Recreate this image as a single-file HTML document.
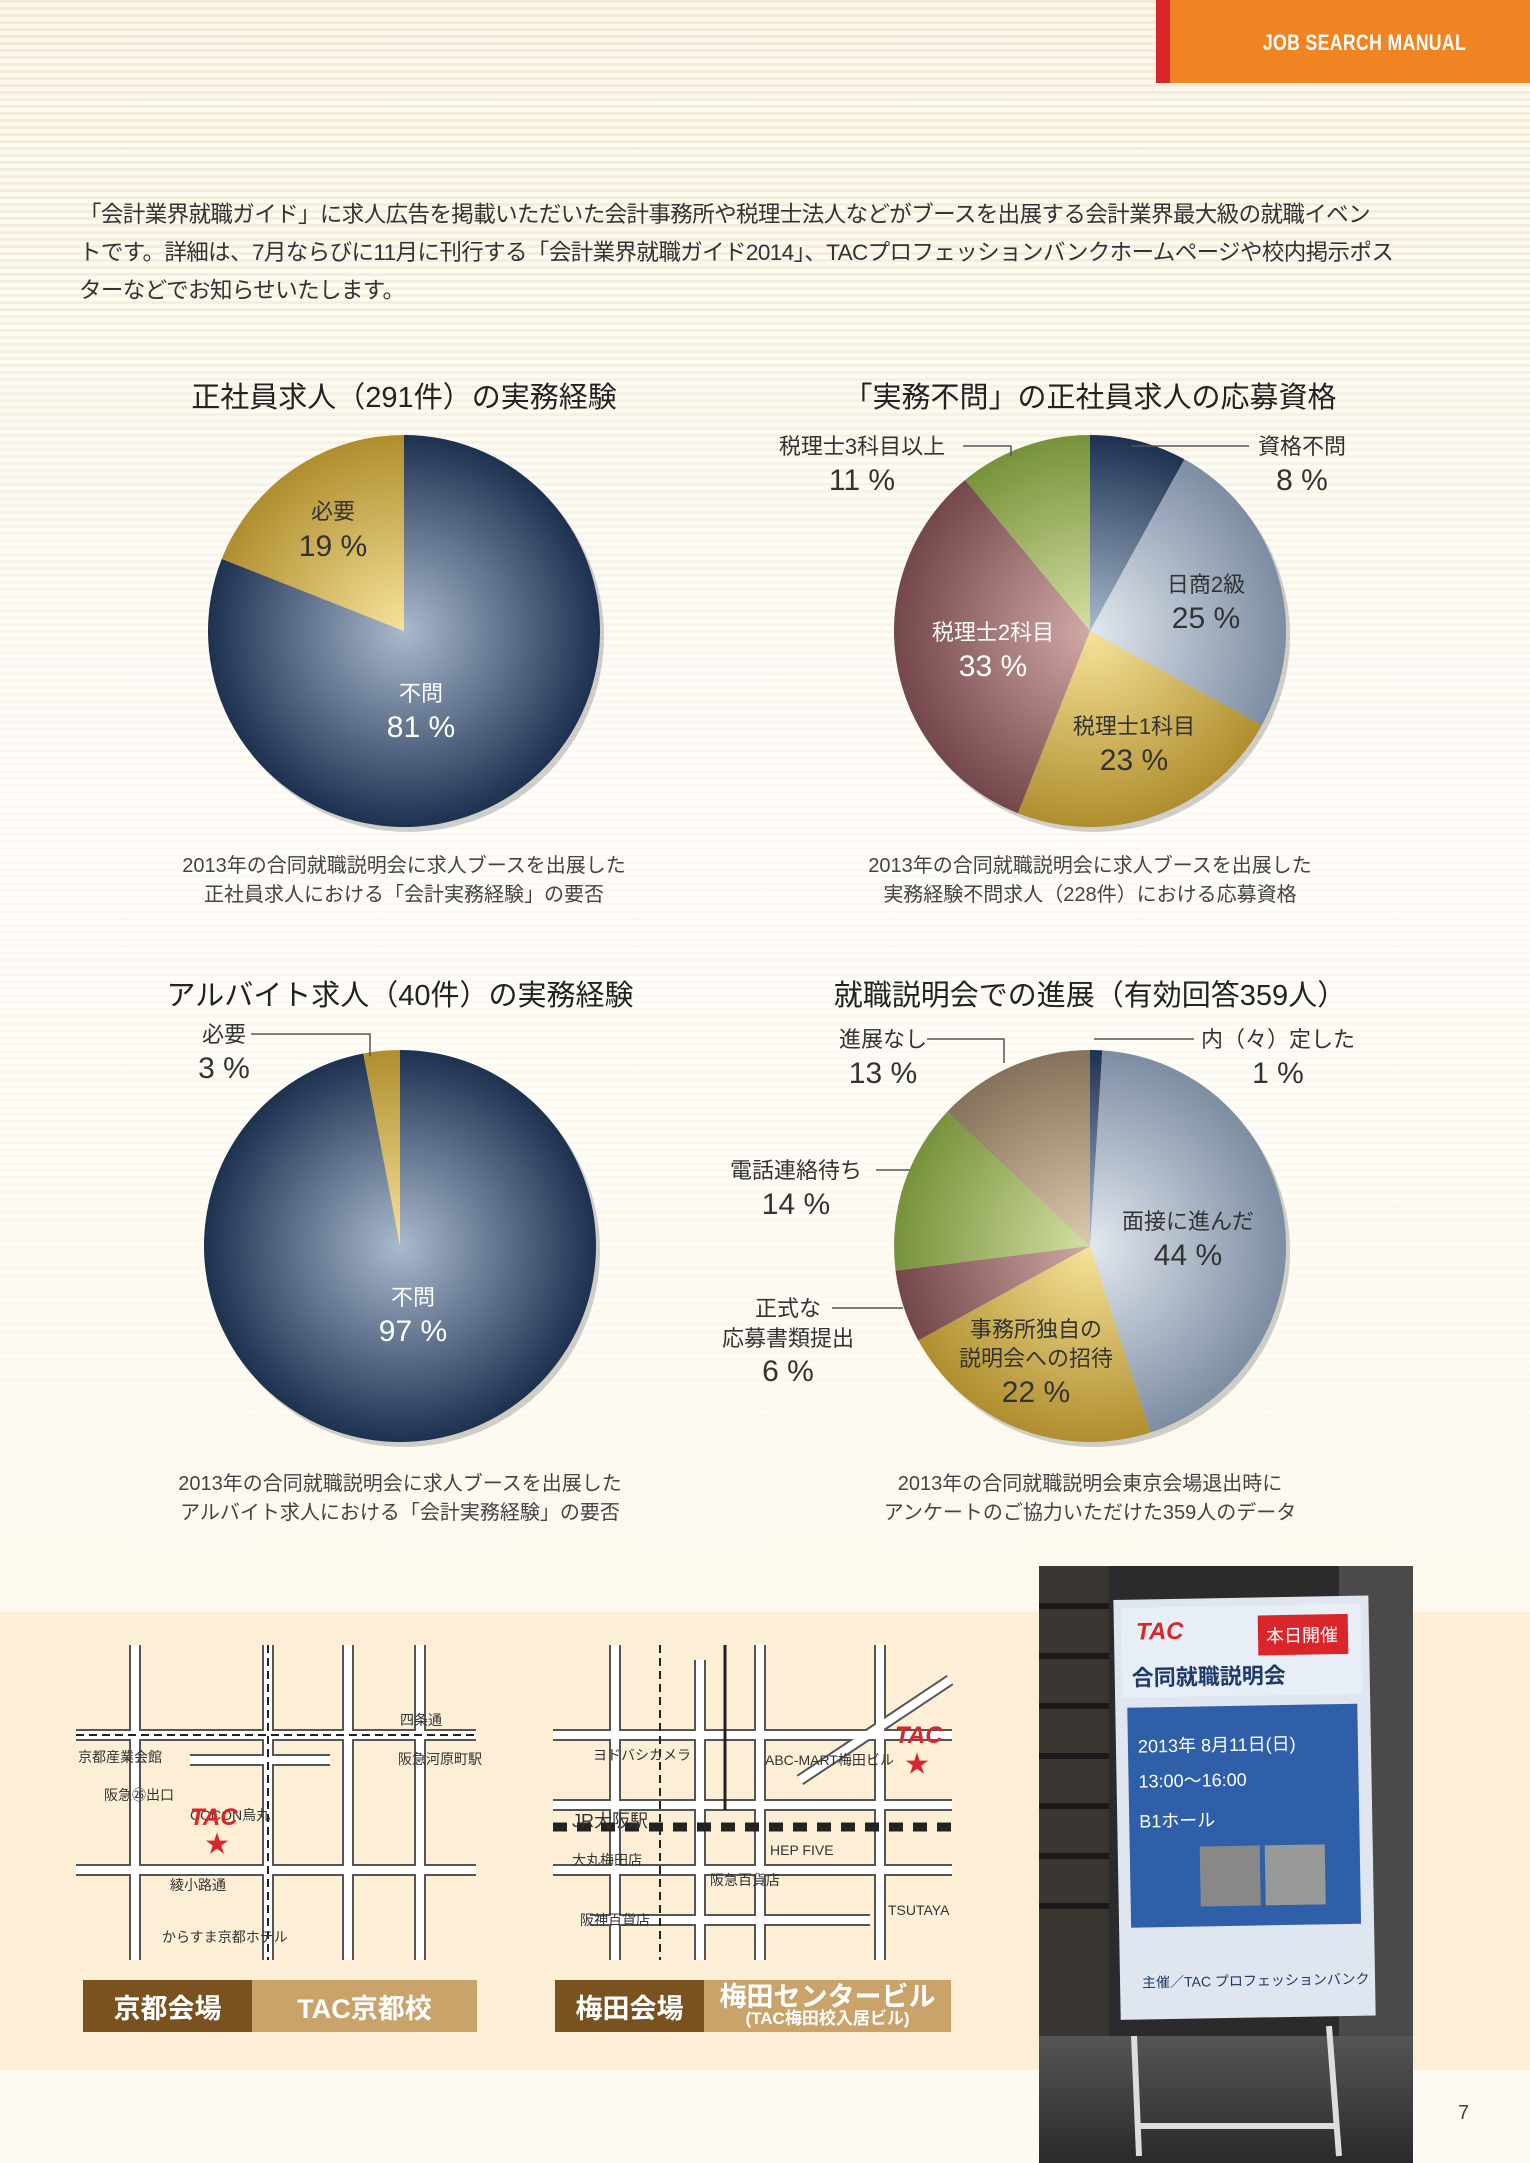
<!DOCTYPE html>
<html><head><meta charset="utf-8">
<style>
html,body{margin:0;padding:0}
body{width:1530px;height:2163px;position:relative;overflow:hidden;font-family:"Liberation Sans","Noto Sans CJK JP",sans-serif;color:#333;
background:repeating-linear-gradient(180deg,#f4ead3 0px,#f4ead3 3px,#fcf8ee 3px,#fcf8ee 7px);}
.fade{position:absolute;left:0;top:0;width:1530px;height:1612px;background:linear-gradient(180deg,rgba(255,255,255,0) 0px,rgba(255,255,255,0.25) 300px,rgba(255,255,255,0.7) 800px,rgba(253,250,240,0.9) 1600px)}
.hdr{position:absolute;left:1156px;top:0;width:374px;height:83px;background:#f08423;border-left:14px solid #d8262a;box-sizing:border-box}
.hdr span{position:absolute;right:64px;top:30px;color:#fff;font-weight:bold;font-size:22px;letter-spacing:0.5px;transform:scaleX(0.8);transform-origin:right}
.para{position:absolute;left:79px;top:196px;width:1450px;font-size:22.5px;line-height:38px;color:#333;letter-spacing:-0.6px;white-space:nowrap}
.t{position:absolute;white-space:nowrap;transform:translateX(-50%);text-align:center}
.title{font-size:29px;color:#222}
.cap{font-size:20px;color:#444;line-height:29px}
.band{position:absolute;left:0;top:1612px;width:1530px;height:458px;background:#fcefd6}
.bottom{position:absolute;left:0;top:2070px;width:1530px;height:93px;background:#fdfaf2}
.lab{position:absolute;color:#fff;font-size:27px;font-weight:bold;display:flex;align-items:center;justify-content:center}
</style></head><body>
<div class="fade"></div>
<div class="band"></div>
<div class="bottom"></div>
<div class="hdr"><span>JOB SEARCH MANUAL</span></div>
<div class="para">「会計業界就職ガイド」に求人広告を掲載いただいた会計事務所や税理士法人などがブースを出展する会計業界最大級の就職イベン<br>トです。詳細は、7月ならびに11月に刊行する「会計業界就職ガイド2014」、TACプロフェッションバンクホームページや校内掲示ポス<br>ターなどでお知らせいたします。</div>

<div class="t title" style="left:404px;top:374px">正社員求人（291件）の実務経験</div>
<div class="t title" style="left:1090px;top:374px">「実務不問」の正社員求人の応募資格</div>
<div class="t title" style="left:400px;top:972px">アルバイト求人（40件）の実務経験</div>
<div class="t title" style="left:1090px;top:972px">就職説明会での進展（有効回答359人）</div>

<div class="t cap" style="left:404px;top:852px">2013年の合同就職説明会に求人ブースを出展した<br>正社員求人における「会計実務経験」の要否</div>
<div class="t cap" style="left:1090px;top:852px">2013年の合同就職説明会に求人ブースを出展した<br>実務経験不問求人（228件）における応募資格</div>
<div class="t cap" style="left:400px;top:1470px">2013年の合同就職説明会に求人ブースを出展した<br>アルバイト求人における「会計実務経験」の要否</div>
<div class="t cap" style="left:1090px;top:1470px">2013年の合同就職説明会東京会場退出時に<br>アンケートのご協力いただけた359人のデータ</div>

<svg id="pies" width="1530" height="2163" style="position:absolute;left:0;top:0" xmlns="http://www.w3.org/2000/svg"></svg>

<svg width="1530" height="2163" style="position:absolute;left:0;top:0" xmlns="http://www.w3.org/2000/svg">
<g stroke="#555" stroke-width="12" fill="none" stroke-linecap="butt">
<path d="M135 1645V1960M268 1645V1960M348 1645V1960M420 1645V1960M76 1735H476M76 1870H476M190 1760H330"/>
<path d="M615 1645V1960M700 1660V1960M760 1645V1960M880 1645V1960M553 1735H952M553 1805H952M553 1870H952M590 1920H870M800 1780L950 1680"/>
</g>
<g stroke="#fff" stroke-width="8" fill="none">
<path d="M135 1645V1960M268 1645V1960M348 1645V1960M420 1645V1960M76 1735H476M76 1870H476M190 1760H330"/>
<path d="M615 1645V1960M700 1660V1960M760 1645V1960M880 1645V1960M553 1735H952M553 1805H952M553 1870H952M590 1920H870M800 1780L950 1680"/>
</g>
<path d="M76 1735H476M268 1645V1960M660 1645V1960" stroke="#222" stroke-width="2" stroke-dasharray="8 5" fill="none"/>
<path d="M553 1827H952" stroke="#222" stroke-width="9" stroke-dasharray="14 10" fill="none"/>
<path d="M725 1645V1810" stroke="#222" stroke-width="3" fill="none"/>
<g font-size="14" fill="#333" font-family="Liberation Sans,Noto Sans CJK JP,sans-serif">
<text x="78" y="1762">京都産業会館</text><text x="104" y="1800">阪急㉖出口</text><text x="190" y="1820">COCON烏丸</text>
<text x="170" y="1890">綾小路通</text><text x="162" y="1942">からすま京都ホテル</text><text x="400" y="1725">四条通</text><text x="398" y="1764">阪急河原町駅</text>
<text x="572" y="1827" font-size="18">JR大阪駅</text><text x="572" y="1865">大丸梅田店</text><text x="580" y="1925">阪神百貨店</text>
<text x="765" y="1765">ABC-MART梅田ビル</text><text x="770" y="1855">HEP FIVE</text><text x="888" y="1915">TSUTAYA</text>
<text x="593" y="1760">ヨドバシカメラ</text><text x="710" y="1885">阪急百貨店</text>
</g>
<text x="190" y="1825" font-size="24" fill="#d8262a" font-weight="bold" font-style="italic">TAC</text>
<text x="205" y="1852" font-size="24" fill="#d8262a">★</text>
<text x="895" y="1743" font-size="24" fill="#d8262a" font-weight="bold" font-style="italic">TAC</text>
<text x="905" y="1772" font-size="24" fill="#d8262a">★</text>
</svg>
<div class="lab" style="left:83px;top:1980px;width:169px;height:52px;background:#7a5220">京都会場</div>
<div class="lab" style="left:252px;top:1980px;width:225px;height:52px;background:#c9a36a">TAC京都校</div>
<div class="lab" style="left:555px;top:1980px;width:149px;height:52px;background:#7a5220">梅田会場</div>
<div class="lab" style="left:704px;top:1980px;width:247px;height:52px;background:#c9a36a;flex-direction:column;line-height:26px">梅田センタービル<span style="font-size:17px;line-height:18px">(TAC梅田校入居ビル)</span></div>

<svg width="374" height="597" style="position:absolute;left:1039px;top:1566px" xmlns="http://www.w3.org/2000/svg">
<defs><linearGradient id="fl" x1="0" y1="0" x2="0" y2="1"><stop offset="0" stop-color="#555"/><stop offset="1" stop-color="#2a2a2a"/></linearGradient></defs>
<rect width="374" height="597" fill="#2b2b2b"/>
<rect x="0" y="0" width="70" height="597" fill="#3a3631"/>
<path d="M0 40H70M0 90H70M0 140H70M0 190H70M0 240H70M0 290H70M0 340H70" stroke="#1a1a1a" stroke-width="6"/>
<rect x="0" y="470" width="374" height="127" fill="url(#fl)"/>
<rect x="300" y="0" width="74" height="470" fill="#4a4a4a"/>
<path d="M95 470L100 590M290 460L300 590M100 560H300" stroke="#ddd" stroke-width="6" fill="none"/>
<g transform="rotate(-1 190 240)">
<rect x="78" y="32" width="255" height="420" fill="#dfe6ef"/>
<rect x="85" y="40" width="240" height="90" fill="#e8eef6"/>
<text x="100" y="72" font-size="24" fill="#d8262a" font-weight="bold" font-style="italic">TAC</text>
<rect x="222" y="50" width="90" height="40" fill="#d8262a"/>
<text x="230" y="77" font-size="18" fill="#fff">本日開催</text>
<text x="95" y="118" font-size="22" fill="#1e3a6a" font-weight="bold">合同就職説明会</text>
<rect x="90" y="140" width="230" height="220" fill="#2f5fa8"/>
<text x="100" y="185" font-size="18" fill="#fff">2013年 8月11日(日)</text>
<text x="100" y="220" font-size="18" fill="#fff">13:00〜16:00</text>
<text x="100" y="260" font-size="18" fill="#fff">B1ホール</text>
<rect x="160" y="280" width="60" height="60" fill="#888"/><rect x="225" y="280" width="60" height="60" fill="#999"/>
<text x="100" y="420" font-size="14" fill="#1e3a6a">主催／TAC プロフェッションバンク</text>
</g>
</svg>
<div style="position:absolute;left:1458px;top:2102px;font-size:20px;color:#444">7</div>

<script>
var svg=document.getElementById('pies');var NS='http://www.w3.org/2000/svg';
var cols={navy:['#a9b9ce','#1d3150'],grey:['#e2e8ef','#7d8da2'],gold:['#f6e39a','#b08e2e'],mauve:['#d1a9a6','#74474a'],green:['#d3dfa3','#78923b'],tan:['#dcc9ae','#86725a']};
var defs=document.createElementNS(NS,'defs');svg.appendChild(defs);var gid=0;
function pie(cx,cy,r,slices){
 var sh=document.createElementNS(NS,'circle');sh.setAttribute('cx',cx+4);sh.setAttribute('cy',cy+5);sh.setAttribute('r',r);sh.setAttribute('fill','rgba(0,0,0,0.18)');svg.appendChild(sh);
 var a=0;
 slices.forEach(function(s){
  var st=s[0],c=cols[s[1]];
  var id='g'+(gid++);
  var g=document.createElementNS(NS,'radialGradient');g.setAttribute('id',id);g.setAttribute('gradientUnits','userSpaceOnUse');
  g.setAttribute('cx',cx);g.setAttribute('cy',cy);g.setAttribute('r',r);
  g.innerHTML='<stop offset="0" stop-color="'+c[0]+'"/><stop offset="1" stop-color="'+c[1]+'"/>';defs.appendChild(g);
  var a0=a,a1=a+st*Math.PI*2/100;
  var x0=cx+r*Math.sin(a0),y0=cy-r*Math.cos(a0),x1=cx+r*Math.sin(a1),y1=cy-r*Math.cos(a1);
  var p=document.createElementNS(NS,'path');
  p.setAttribute('d','M'+cx+' '+cy+'L'+x0+' '+y0+'A'+r+' '+r+' 0 '+((a1-a0)>Math.PI?1:0)+' 1 '+x1+' '+y1+'Z');
  p.setAttribute('fill','url(#'+id+')');svg.appendChild(p);a=a1;
 });
}
pie(404,631,196,[[81,'navy'],[19,'gold']]);
pie(1090,631,196,[[8,'navy'],[25,'grey'],[23,'gold'],[33,'mauve'],[11,'green']]);
pie(400,1246,196,[[97,'navy'],[3,'gold']]);
pie(1090,1246,196,[[1,'navy'],[44,'grey'],[22,'gold'],[6,'mauve'],[14,'green'],[13,'tan']]);
function line(d){var p=document.createElementNS(NS,'path');p.setAttribute('d',d);p.setAttribute('stroke','#555');p.setAttribute('stroke-width','1.5');p.setAttribute('fill','none');svg.appendChild(p);}
line('M963 446H1011V456');line('M1131 446H1249');line('M251 1034H370V1056');line('M927 1039H1004V1063');line('M1094 1039H1194');line('M876 1170H910');line('M832 1308H903');
function txt(x,y,s,size,col){var t=document.createElementNS(NS,'text');t.setAttribute('x',x);t.setAttribute('y',y);t.setAttribute('text-anchor','middle');t.setAttribute('font-size',size);t.setAttribute('fill',col||'#333');t.setAttribute('font-family','Liberation Sans, Noto Sans CJK JP, sans-serif');t.textContent=s;svg.appendChild(t);}
var L=[[333,519,'必要',22],[333,556,'19 %',30],[421,701,'不問',22,'#fff'],[421,737,'81 %',30,'#fff'],
[862,454,'税理士3科目以上',22],[862,490,'11 %',30],[1302,454,'資格不問',22],[1302,490,'8 %',30],
[1206,592,'日商2級',22],[1206,628,'25 %',30],[993,640,'税理士2科目',22,'#fff'],[993,676,'33 %',30,'#fff'],[1134,734,'税理士1科目',22],[1134,770,'23 %',30],
[224,1042,'必要',22],[224,1078,'3 %',30],[413,1305,'不問',22,'#fff'],[413,1341,'97 %',30,'#fff'],
[883,1047,'進展なし',22],[883,1083,'13 %',30],[1278,1047,'内（々）定した',22],[1278,1083,'1 %',30],
[796,1178,'電話連絡待ち',22],[796,1214,'14 %',30],[788,1316,'正式な',22],[788,1346,'応募書類提出',22],[788,1381,'6 %',30],
[1188,1229,'面接に進んだ',22],[1188,1265,'44 %',30],[1036,1337,'事務所独自の',22],[1036,1366,'説明会への招待',22],[1036,1402,'22 %',30]];
L.forEach(function(l){txt(l[0],l[1],l[2],l[3],l[4]);});
</script>
</body></html>
